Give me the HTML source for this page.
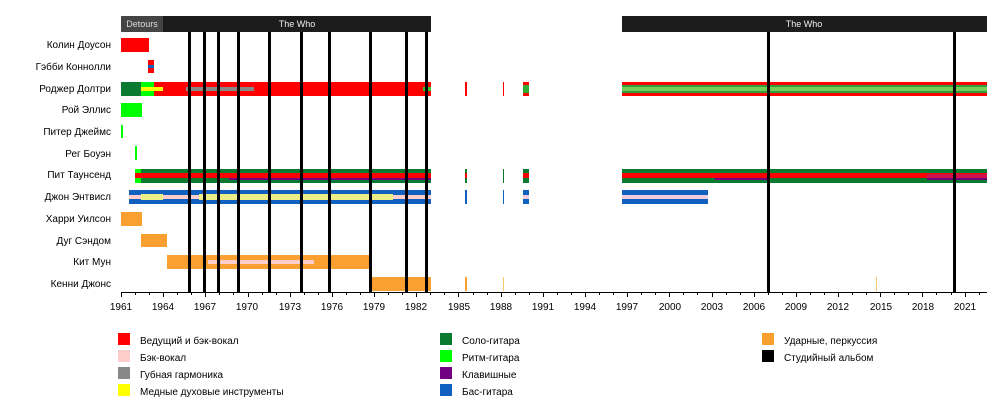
<!DOCTYPE html>
<html><head><meta charset="utf-8"><style>
body{margin:0;background:#fff;}
svg text{font-family:"Liberation Sans",sans-serif;font-size:10px;fill:#000;}
</style></head><body>
<svg width="1001" height="411" xmlns="http://www.w3.org/2000/svg">
<!-- header -->
<rect x="121" y="16" width="42" height="16" fill="#444"/>
<rect x="163" y="16" width="268" height="16" fill="#1c1c1c"/>
<rect x="622" y="16" width="365" height="16" fill="#1c1c1c"/>
<text x="142" y="27" text-anchor="middle" style="fill:#ddd;font-size:9px">Detours</text>
<text x="297" y="27" text-anchor="middle" style="fill:#eee;font-size:9px">The Who</text>
<text x="804" y="27" text-anchor="middle" style="fill:#eee;font-size:9px">The Who</text>

<!-- row labels -->
<g text-anchor="end">
<text x="111" y="48">Колин Доусон</text>
<text x="111" y="70">Гэбби Коннолли</text>
<text x="111" y="92">Роджер Долтри</text>
<text x="111" y="113">Рой Эллис</text>
<text x="111" y="135">Питер Джеймс</text>
<text x="111" y="157">Рег Боуэн</text>
<text x="111" y="178">Пит Таунсенд</text>
<text x="111" y="200">Джон Энтвисл</text>
<text x="111" y="222">Харри Уилсон</text>
<text x="111" y="244">Дуг Сэндом</text>
<text x="111" y="265">Кит Мун</text>
<text x="111" y="287">Кенни Джонс</text>
</g>

<!-- bars -->
<!-- Dawson -->
<rect x="121" y="38" width="28" height="14" fill="#f00"/>
<!-- Connolly -->
<rect x="148" y="60" width="6" height="13" fill="#f00"/>
<rect x="148" y="65" width="6" height="3" fill="#1060c0"/>
<!-- Daltrey -->
<rect x="121" y="82" width="20" height="14" fill="#0a7a30"/>
<rect x="141" y="82" width="13" height="14" fill="#0f0"/>
<rect x="154" y="82" width="277" height="14" fill="#f00"/>
<rect x="141" y="87" width="22" height="4" fill="#ff0"/>
<rect x="186" y="87" width="68" height="4" fill="#888"/>
<rect x="423" y="87" width="8" height="4" fill="#3c3"/>
<rect x="465" y="82" width="2" height="14" fill="#f00"/>
<rect x="503" y="82" width="1" height="14" fill="#f00"/>
<rect x="523" y="82" width="6" height="14" fill="#f00"/>
<rect x="523" y="85" width="6" height="8" fill="#3a3"/>
<rect x="622" y="82" width="365" height="14" fill="#f00"/>
<rect x="622" y="85" width="365" height="8" fill="#2e9e3e"/>
<rect x="622" y="87" width="365" height="4" fill="#7c5"/>
<!-- Ellis -->
<rect x="121" y="103" width="21" height="14" fill="#0f0"/>
<!-- James -->
<rect x="121" y="125" width="2" height="13" fill="#0f0"/>
<!-- Bowen -->
<rect x="135" y="146" width="2" height="14" fill="#0f0"/>
<!-- Townshend -->
<rect x="135" y="169" width="6" height="14" fill="#0f0"/>
<rect x="141" y="169" width="290" height="14" fill="#0a7a30"/>
<rect x="229" y="174" width="202" height="6" fill="#700080"/>
<rect x="135" y="173" width="296" height="5" fill="#f00"/>
<rect x="465" y="169" width="2" height="14" fill="#0a7a30"/>
<rect x="465" y="173" width="2" height="5" fill="#f00"/>
<rect x="503" y="169" width="1" height="14" fill="#0a7a30"/>
<rect x="523" y="169" width="6" height="14" fill="#0a7a30"/>
<rect x="523" y="173" width="6" height="5" fill="#f00"/>
<rect x="622" y="169" width="365" height="14" fill="#0a7a30"/>
<rect x="715" y="174" width="53" height="6" fill="#700080"/>
<rect x="927" y="174" width="60" height="6" fill="#700080"/>
<rect x="622" y="173" width="365" height="5" fill="#f00"/>
<rect x="927" y="174" width="60" height="4" fill="#d0104a"/>
<!-- Entwistle -->
<rect x="129" y="190" width="302" height="14" fill="#1060c0"/>
<rect x="129" y="195" width="302" height="4" fill="#fcc"/>
<rect x="141" y="194" width="22" height="6" fill="#ee8"/>
<rect x="199" y="194" width="194" height="6" fill="#ee8"/>
<rect x="465" y="190" width="2" height="14" fill="#1060c0"/>
<rect x="503" y="190" width="1" height="14" fill="#1060c0"/>
<rect x="523" y="190" width="6" height="14" fill="#1060c0"/>
<rect x="523" y="195" width="6" height="4" fill="#ecd"/>
<rect x="622" y="190" width="86" height="14" fill="#1060c0"/>
<rect x="622" y="195" width="86" height="4" fill="#ecd"/>
<!-- Wilson -->
<rect x="121" y="212" width="21" height="14" fill="#f9a030"/>
<!-- Sandom -->
<rect x="141" y="234" width="26" height="13" fill="#f9a030"/>
<!-- Moon -->
<rect x="167" y="255" width="203" height="14" fill="#f9a030"/>
<rect x="208" y="260" width="106" height="4" fill="#fcc"/>
<!-- Jones -->
<rect x="372" y="277" width="59" height="14" fill="#f9a030"/>
<rect x="465" y="277" width="2" height="14" fill="#f9a030"/>
<rect x="503" y="277" width="1" height="14" fill="#f8c870"/>
<rect x="876" y="277" width="1" height="14" fill="#f8c870"/>

<!-- studio album lines -->
<g fill="#000">
<rect x="188" y="32" width="3" height="260"/>
<rect x="203" y="32" width="3" height="260"/>
<rect x="217" y="32" width="3" height="260"/>
<rect x="237" y="32" width="3" height="260"/>
<rect x="268" y="32" width="3" height="260"/>
<rect x="300" y="32" width="3" height="260"/>
<rect x="328" y="32" width="3" height="260"/>
<rect x="369" y="32" width="3" height="260"/>
<rect x="405" y="32" width="3" height="260"/>
<rect x="425" y="32" width="3" height="260"/>
<rect x="767" y="32" width="3" height="260"/>
<rect x="953" y="32" width="3" height="260"/>
</g>

<!-- axis -->
<rect x="121" y="292" width="866" height="1" fill="#000"/>
<g id="ticks" fill="#000"></g>
<g text-anchor="middle">
<text x="121" y="310">1961</text><text x="163" y="310">1964</text><text x="205" y="310">1967</text>
<text x="247" y="310">1970</text><text x="290" y="310">1973</text><text x="332" y="310">1976</text>
<text x="374" y="310">1979</text><text x="416" y="310">1982</text><text x="459" y="310">1985</text>
<text x="501" y="310">1988</text><text x="543" y="310">1991</text><text x="585" y="310">1994</text>
<text x="627" y="310">1997</text><text x="670" y="310">2000</text><text x="712" y="310">2003</text>
<text x="754" y="310">2006</text><text x="796" y="310">2009</text><text x="838" y="310">2012</text>
<text x="881" y="310">2015</text><text x="923" y="310">2018</text><text x="965" y="310">2021</text>
</g>

<!-- legend -->
<rect x="118" y="333" width="12" height="12" fill="#f00"/><text x="140" y="344">Ведущий и бэк-вокал</text>
<rect x="118" y="350" width="12" height="12" fill="#fcc"/><text x="140" y="361">Бэк-вокал</text>
<rect x="118" y="367" width="12" height="12" fill="#888"/><text x="140" y="378">Губная гармоника</text>
<rect x="118" y="384" width="12" height="12" fill="#ff0"/><text x="140" y="395">Медные духовые инструменты</text>
<rect x="440" y="333" width="12" height="12" fill="#0a7a30"/><text x="462" y="344">Соло-гитара</text>
<rect x="440" y="350" width="12" height="12" fill="#0f0"/><text x="462" y="361">Ритм-гитара</text>
<rect x="440" y="367" width="12" height="12" fill="#700080"/><text x="462" y="378">Клавишные</text>
<rect x="440" y="384" width="12" height="12" fill="#1060c0"/><text x="462" y="395">Бас-гитара</text>
<rect x="762" y="333" width="12" height="12" fill="#f9a030"/><text x="784" y="344">Ударные, перкуссия</text>
<rect x="762" y="350" width="12" height="12" fill="#000"/><text x="784" y="361">Студийный альбом</text>
</svg>
<script>
var g=document.getElementById('ticks');
for(var y=1961;y<=2022;y++){var x=121+(y-1961)*14.06;var big=(y-1961)%3==0;
var r=document.createElementNS('http://www.w3.org/2000/svg','rect');
r.setAttribute('x',Math.round(x));r.setAttribute('y',292);r.setAttribute('width',1);r.setAttribute('height',big?5:3);g.appendChild(r);}
</script>
</body></html>
